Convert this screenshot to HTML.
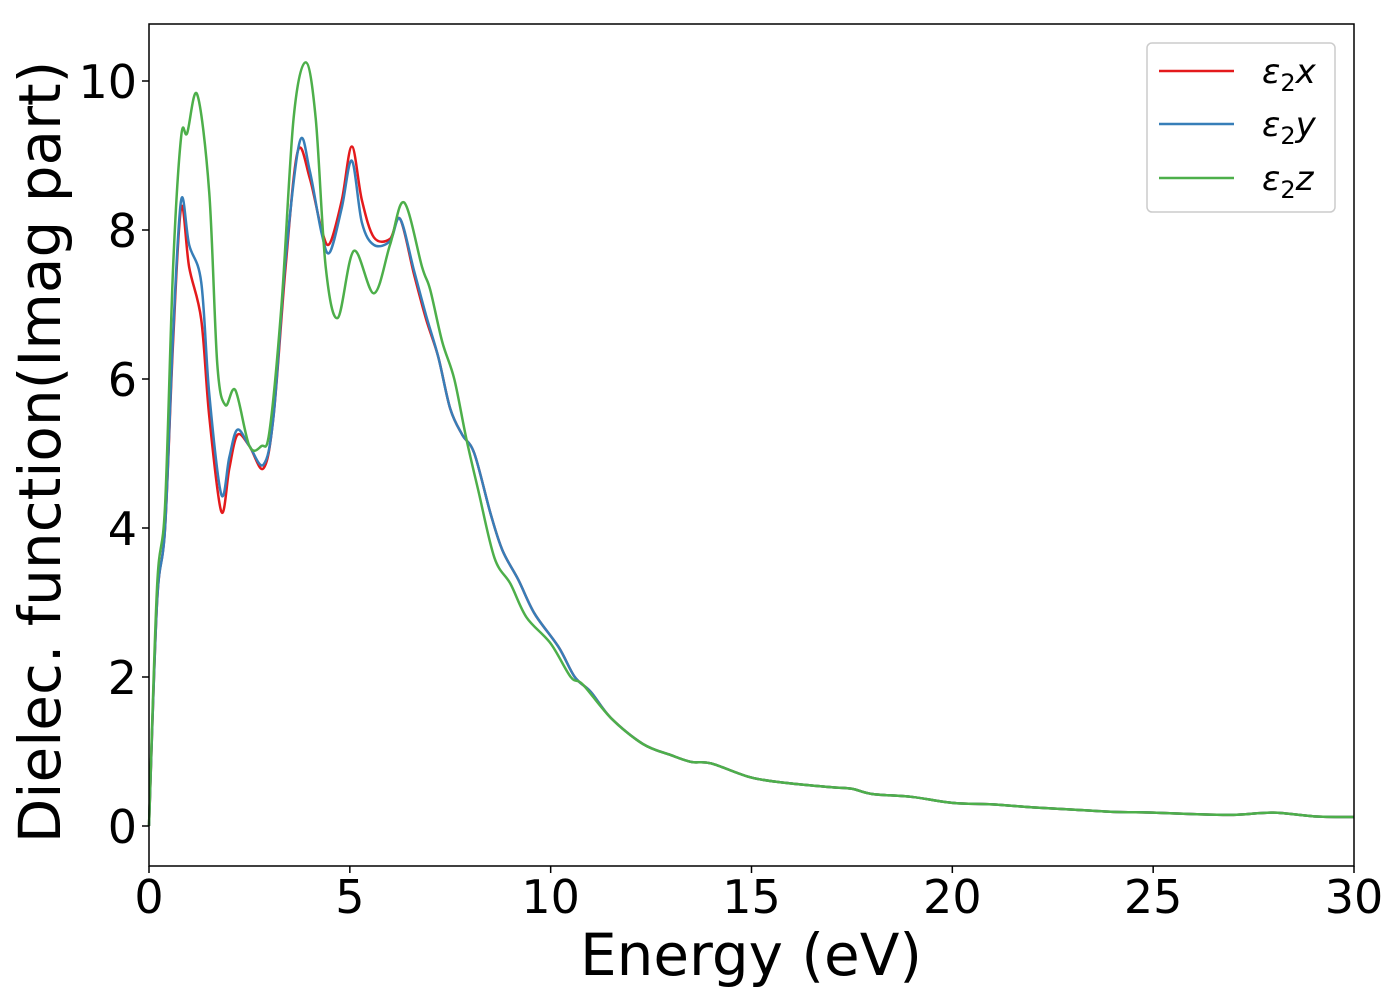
<!DOCTYPE html>
<html><head><meta charset="utf-8"><style>
body{margin:0;background:#fff;}
svg text{font-family:"DejaVu Sans","Liberation Sans",sans-serif;}
</style></head><body>
<svg width="1400" height="1000" xmlns="http://www.w3.org/2000/svg">
<g id="plot"></g>
<g id="axes"></g>
<text x="751" y="975" font-size="58" text-anchor="middle">Energy (eV)</text>
<text transform="translate(60,452) rotate(-90)" font-size="58" text-anchor="middle">Dielec. function(Imag part)</text>
<g>
<rect x="1147" y="43" width="188" height="169" rx="5" fill="#fff" stroke="#ccc" stroke-width="1.5"/>
<g><line x1="1159" y1="71" x2="1234" y2="71" stroke="#e41a1c" stroke-width="2.5"/><text x="1262" y="83" font-size="34" font-style="italic">ε<tspan font-style="normal" font-size="24" dy="8">2</tspan><tspan dy="-8">x</tspan></text></g>
<g><line x1="1159" y1="124" x2="1234" y2="124" stroke="#377eb8" stroke-width="2.5"/><text x="1262" y="136" font-size="34" font-style="italic">ε<tspan font-style="normal" font-size="24" dy="8">2</tspan><tspan dy="-8">y</tspan></text></g>
<g><line x1="1159" y1="178" x2="1234" y2="178" stroke="#4daf4a" stroke-width="2.5"/><text x="1262" y="190" font-size="34" font-style="italic">ε<tspan font-style="normal" font-size="24" dy="8">2</tspan><tspan dy="-8">z</tspan></text></g>
</g>
</svg>
<script>
const xTicks=[0,5,10,15,20,25,30];
const yTicks=[0,2,4,6,8,10];
const tailE=[12.3,13,13.5,14,15,16,17,17.5,18,19,20,21,22,23,24,25,26,27,28,29,30];
const tailV=[1.1,0.95,0.86,0.84,0.65,0.57,0.52,0.5,0.43,0.39,0.31,0.29,0.25,0.22,0.19,0.18,0.16,0.15,0.18,0.13,0.12];
const xE=[0,0.2,0.4,0.6,0.8,1.0,1.3,1.5,1.8,2.0,2.2,2.5,2.85,3.1,3.4,3.7,4.0,4.3,4.5,4.8,5.05,5.3,5.6,6.0,6.25,6.6,6.9,7.2,7.5,7.8,8.1,8.5,8.8,9.2,9.6,10.2,10.6,11,11.5];
const xV=[0,3.0,4.0,6.5,8.3,7.5,6.8,5.5,4.22,4.8,5.25,5.1,4.8,5.5,7.5,9.05,8.7,8.0,7.82,8.4,9.12,8.4,7.9,7.88,8.15,7.4,6.8,6.3,5.6,5.25,5.0,4.2,3.7,3.3,2.85,2.4,2.0,1.8,1.45];
const yE=[0,0.2,0.4,0.6,0.8,1.0,1.3,1.5,1.8,2.0,2.2,2.5,2.85,3.1,3.4,3.75,4.0,4.3,4.5,4.8,5.05,5.3,5.6,6.0,6.25,6.6,6.9,7.2,7.5,7.8,8.1,8.5,8.8,9.2,9.6,10.2,10.6,11,11.5];
const yV=[0,3.0,4.0,6.6,8.4,7.8,7.3,5.8,4.45,4.95,5.32,5.1,4.85,5.5,7.6,9.18,8.8,7.95,7.7,8.3,8.93,8.1,7.8,7.85,8.15,7.45,6.85,6.3,5.6,5.25,5.0,4.2,3.7,3.3,2.85,2.4,2.0,1.8,1.45];
const zE=[0,0.2,0.4,0.6,0.8,0.95,1.2,1.5,1.7,1.9,2.15,2.5,2.8,3.0,3.3,3.6,3.9,4.15,4.4,4.7,5.1,5.6,6.0,6.35,6.8,7.0,7.3,7.6,7.9,8.2,8.6,9.0,9.4,10,10.5,10.8,11.5];
const zV=[0,3.2,4.3,7.5,9.25,9.3,9.82,8.5,6.2,5.65,5.85,5.1,5.1,5.3,7.0,9.5,10.25,9.5,7.5,6.82,7.72,7.15,7.8,8.37,7.5,7.2,6.5,6.0,5.2,4.5,3.6,3.25,2.8,2.45,2.0,1.9,1.45];
const X0=149,X1=1354,Y0=24,Y1=866;
const sx=e=>X0+(e/30)*(X1-X0);
const sy=v=>826-v*(826-81)/10;
const NS="http://www.w3.org/2000/svg";
const plot=document.getElementById('plot'),axes=document.getElementById('axes');
function path(E,V){
 const p=E.concat(tailE).map((e,i)=>[sx(e),sy(V.concat(tailV)[i])]);
 let d=`M${p[0][0]},${p[0][1]}`;
 for(let i=0;i<p.length-1;i++){
  const a=p[Math.max(0,i-1)],b=p[i],c=p[i+1],n=p[Math.min(p.length-1,i+2)];
  d+=`C${b[0]+(c[0]-a[0])/6},${b[1]+(c[1]-a[1])/6} ${c[0]-(n[0]-b[0])/6},${c[1]-(n[1]-b[1])/6} ${c[0]},${c[1]}`;
 }
 return d;
}
[[xE,xV,'#e41a1c','series-eps2x'],[yE,yV,'#377eb8','series-eps2y'],[zE,zV,'#4daf4a','series-eps2z']].forEach(s=>{
 const el=document.createElementNS(NS,'path');
 el.setAttribute('d',path(s[0],s[1]));el.setAttribute('fill','none');el.setAttribute('stroke',s[2]);el.setAttribute('stroke-width','2.5');
 
 
 plot.appendChild(el);
});
const fr=document.createElementNS(NS,'rect');
fr.setAttribute('x',X0);fr.setAttribute('y',Y0);fr.setAttribute('width',X1-X0);fr.setAttribute('height',Y1-Y0);fr.setAttribute('fill','none');fr.setAttribute('stroke','#000');fr.setAttribute('stroke-width','1.5');


axes.appendChild(fr);
xTicks.forEach(t=>{
 const l=document.createElementNS(NS,'line');l.setAttribute('x1',sx(t));l.setAttribute('x2',sx(t));l.setAttribute('y1',Y1);l.setAttribute('y2',Y1+7);l.setAttribute('stroke','#000');l.setAttribute('stroke-width','1.5');
 
 
 axes.appendChild(l);
 const tx=document.createElementNS(NS,'text');tx.setAttribute('x',sx(t));tx.setAttribute('y',913);tx.setAttribute('font-size','46');tx.setAttribute('text-anchor','middle');tx.textContent=t;
 
 
 axes.appendChild(tx);
});
yTicks.forEach(t=>{
 const l=document.createElementNS(NS,'line');l.setAttribute('x1',X0-7);l.setAttribute('x2',X0);l.setAttribute('y1',sy(t));l.setAttribute('y2',sy(t));l.setAttribute('stroke','#000');l.setAttribute('stroke-width','1.5');
 
 
 axes.appendChild(l);
 const tx=document.createElementNS(NS,'text');tx.setAttribute('x',137);tx.setAttribute('y',sy(t)+17);tx.setAttribute('font-size','46');tx.setAttribute('text-anchor','end');tx.textContent=t;
 
 
 axes.appendChild(tx);
});
</script>
</body></html>
